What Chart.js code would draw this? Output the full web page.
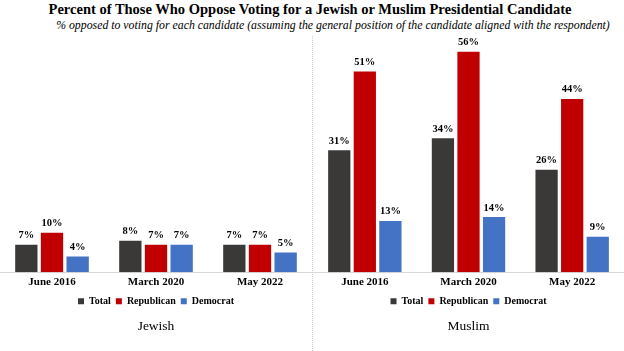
<!DOCTYPE html>
<html>
<head>
<meta charset="utf-8">
<script src="https://cdn.jsdelivr.net/npm/chart.js@4.4.0/dist/chart.umd.min.js"></script>
<style>
  html, body { margin: 0; padding: 0; background: #fff; }
  body { width: 624px; height: 351px; position: relative; overflow: hidden; font-family: "Liberation Serif", serif; }
  #title { position: absolute; left: 0; width: 620px; top: 1px; text-align: center; font-weight: bold; font-size: 14.5px; line-height: 17px; color: #000; white-space: nowrap; }
  #subtitle { position: absolute; left: 50px; width: 566px; top: 18px; text-align: center; font-style: italic; font-size: 11.8px; line-height: 14px; color: #000; white-space: nowrap; }
  .panel { position: absolute; top: 36px; width: 312px; height: 315px; }
  #p1 { left: 0; }
  #p2 { left: 312px; border-left: 1px dotted #d0d0d0; width: 311px; }
</style>
</head>
<body>
<div id="title">Percent of Those Who Oppose Voting for a Jewish or Muslim Presidential Candidate</div>
<div id="subtitle">% opposed to voting for each candidate (assuming the general position of the candidate aligned with the respondent)</div>
<div class="panel" id="p1"><canvas id="c1"></canvas></div>
<div class="panel" id="p2"><canvas id="c2"></canvas></div>
<script>
const categories = ["June 2016", "March 2020", "May 2022"];
const seriesNames = ["Total", "Republican", "Democrat"];
const jewishTotal = [7, 8, 7];
const jewishRepublican = [10, 7, 7];
const jewishDemocrat = [4, 7, 5];
const muslimTotal = [31, 34, 26];
const muslimRepublican = [51, 56, 44];
const muslimDemocrat = [13, 14, 9];
const panelTitles = ["Jewish", "Muslim"];

const colors = ["#3b3838", "#c00000", "#4472c4"];
const FONT = "Liberation Serif";

const labelPlugin = {
  id: 'valueLabels',
  afterDatasetsDraw(chart) {
    const ctx = chart.ctx;
    ctx.save();
    ctx.font = "bold 10.5px " + FONT;
    ctx.fillStyle = "#000";
    ctx.textAlign = "center";
    ctx.textBaseline = "bottom";
    chart.data.datasets.forEach((ds, i) => {
      const meta = chart.getDatasetMeta(i);
      meta.data.forEach((el, j) => {
        ctx.fillText(ds.data[j] + "%", el.x, el.y - 4);
      });
    });
    ctx.restore();
  }
};

function makeChart(id, vals, title) {
  return new Chart(document.getElementById(id), {
    type: 'bar',
    data: {
      labels: categories,
      datasets: seriesNames.map((n, i) => ({
        label: n,
        data: vals[i],
        backgroundColor: colors[i],
        borderColor: colors[i],
        borderWidth: 0,
        categoryPercentage: 0.74,
        barPercentage: 0.87
      }))
    },
    options: {
      responsive: false,
      animation: false,
      devicePixelRatio: 1,
      layout: { padding: { top: 0, left: 0, right: 0, bottom: 0 } },
      scales: {
        y: { display: false, min: 0, max: 60 },
        x: {
          grid: { display: false, drawTicks: false },
          border: { display: true, color: "#d9d9d9", width: 1 },
          ticks: { color: "#000", font: { family: FONT, size: 11, weight: 'bold', lineHeight: 0.1 }, padding: 9 }
        }
      },
      plugins: {
        legend: {
          position: 'bottom',
          labels: {
            boxWidth: 6, boxHeight: 6, padding: 5,
            color: "#000",
            font: { family: FONT, size: 10, weight: 'bold' }
          }
        },
        title: {
          display: true,
          position: 'bottom',
          text: title,
          color: "#000",
          font: { family: FONT, size: 13.5, weight: 'normal' },
          padding: { top: 2.5, bottom: 16 }
        },
        tooltip: { enabled: false }
      }
    },
    plugins: [labelPlugin]
  });
}

const c1 = document.getElementById('c1'); c1.width = 312; c1.height = 315;
const c2 = document.getElementById('c2'); c2.width = 311; c2.height = 315;
Promise.all([
  document.fonts.load("bold 10px 'Liberation Serif'"),
  document.fonts.load("10px 'Liberation Serif'")
]).catch(() => {}).then(() => {
  makeChart('c1', [jewishTotal, jewishRepublican, jewishDemocrat], panelTitles[0]);
  makeChart('c2', [muslimTotal, muslimRepublican, muslimDemocrat], panelTitles[1]);
});
</script>
</body>
</html>
